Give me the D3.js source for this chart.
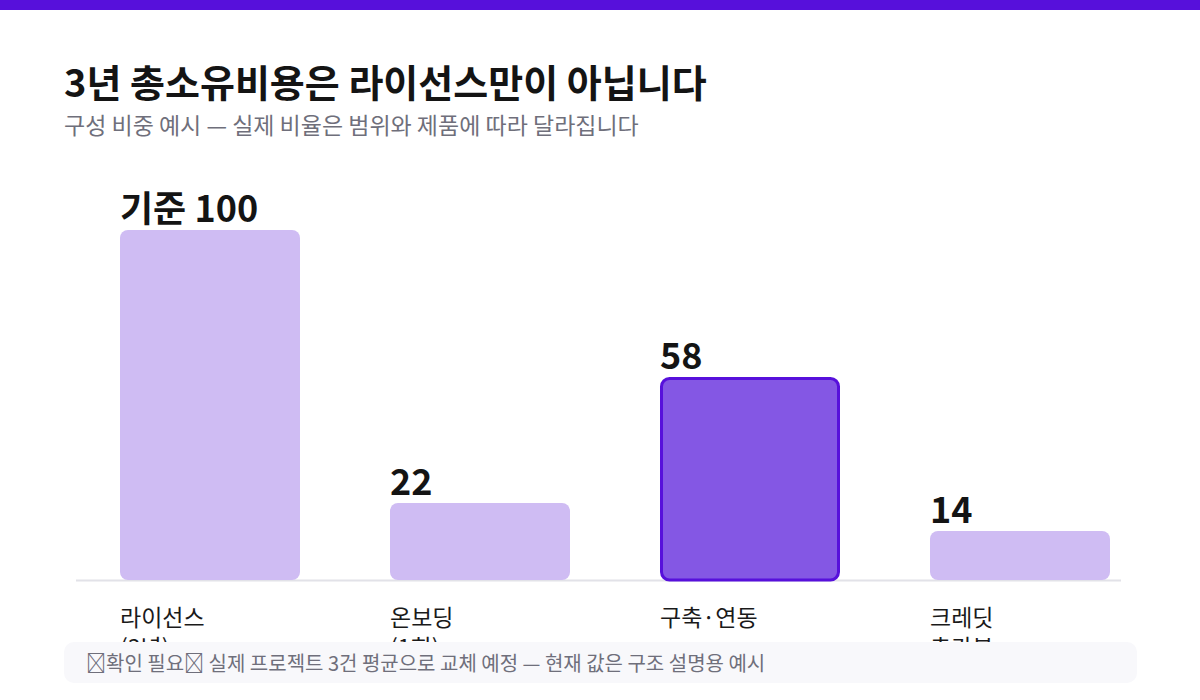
<!DOCTYPE html>
<html><head><meta charset="utf-8">
<script src="https://cdn.jsdelivr.net/npm/d3@7"></script>
<style>
html,body{margin:0;padding:0;background:#fff;}
svg{display:block;font-family:"Noto Sans CJK KR","Noto Sans",sans-serif;}
</style></head>
<body>
<svg id="c" width="1200" height="700"></svg>
<script>
const categories = ["라이선스\n(3년)", "온보딩\n(1회)", "구축·연동", "크레딧\n추가분"];
const values = [100, 22, 58, 14];
const valueLabels = ["기준 100", "22", "58", "14"];
const highlight = [false, false, true, false];
const title = "3년 총소유비용은 라이선스만이 아닙니다";
const subtitle = "구성 비중 예시 — 실제 비율은 범위와 제품에 따라 달라집니다";
const note = "\uE000확인 필요\uE001 실제 프로젝트 3건 평균으로 교체 예정 — 현재 값은 구조 설명용 예시";

const svg = d3.select("#c");
svg.append("rect").attr("x",0).attr("y",0).attr("width",1200).attr("height",10).attr("fill","#5710db");

svg.append("text").attr("x",64).attr("y",97).attr("font-size",38).attr("font-weight",700)
  .attr("fill","#141414").text(title);
svg.append("text").attr("x",64).attr("y",134).attr("font-size",23).attr("fill","#6f6f7b")
  .text(subtitle);

const x = d3.scaleBand().domain(categories).range([75,1155]).paddingInner(1/3).paddingOuter(1/6);
const y = d3.scaleLinear().domain([0,100]).range([580,230]);

svg.append("line").attr("x1",76).attr("x2",1121).attr("y1",y(0)+0.5).attr("y2",y(0)+0.5)
  .attr("stroke","#e2e2e8").attr("stroke-width",2);

const g = svg.append("g");
categories.forEach((c,i)=>{
  const hl = highlight[i];
  g.append("rect")
    .attr("x", x(c) + (hl?1.5:0)).attr("y", y(values[i]) + (hl?1.5:0))
    .attr("width", x.bandwidth() - (hl?3:0)).attr("height", y(0)-y(values[i]) - (hl?1.5:0))
    .attr("rx",8).attr("ry",8)
    .attr("fill", hl ? "#8457e4" : "#cfbcf3")
    .attr("stroke", hl ? "#5710db" : "none").attr("stroke-width", hl?3:0);
  g.append("text").attr("x", x(c)).attr("y", y(values[i]) - 8)
    .attr("font-size",36).attr("font-weight",700).attr("fill","#141414")
    .text(valueLabels[i]);
  const lines = c.split("\n");
  const t = g.append("text").attr("x", x(c)).attr("y", 626).attr("font-size",23).attr("fill","#1a1a1a");
  lines.forEach((l,j)=>t.append("tspan").attr("x", x(c)).attr("dy", j===0?0:30).text(l));
});

svg.append("rect").attr("x",64).attr("y",642).attr("width",1073).attr("height",41).attr("rx",10)
  .attr("fill","#f8f8fb");
svg.append("text").attr("x",86).attr("y",671).attr("font-size",20).attr("fill","#6f6f7b")
  .text(note);
</script>
</body></html>
